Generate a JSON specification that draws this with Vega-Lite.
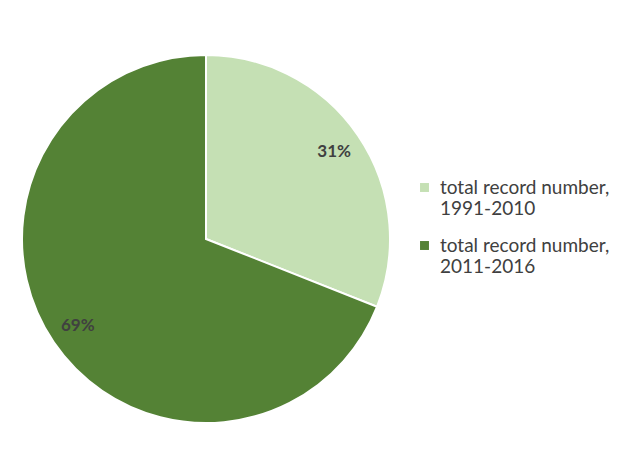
{
  "$schema": "https://vega.github.io/schema/vega-lite/v6.json",
  "autosize": "none",
  "width": 368,
  "height": 368,
  "padding": {"left": 22, "top": 55, "right": 238, "bottom": 48},
  "background": "white",
  "config": {"view": {"stroke": null}},
  "data": {
    "values": [
      {"period": "total record number,|1991-2010", "share": 0.31, "order": 1},
      {"period": "total record number,|2011-2016", "share": 0.69, "order": 2}
    ]
  },
  "encoding": {
    "theta": {"field": "share", "type": "quantitative", "stack": true},
    "order": {"field": "order", "type": "quantitative"},
    "color": {
      "field": "period",
      "type": "nominal",
      "scale": {"range": ["#C5E0B4", "#548235"]},
      "legend": {
        "title": null,
        "orient": "none",
        "legendX": 393,
        "legendY": 123,
        "symbolType": "square",
        "symbolSize": 80,
        "symbolStrokeWidth": 0,
        "labelFont": "Lato",
        "labelFontSize": 19,
        "labelColor": "#404040",
        "labelLimit": 300,
        "labelBaseline": "middle",
        "labelOffset": 6,
        "rowPadding": 17,
        "labelExpr": "split(datum.label, '|')"
      }
    }
  },
  "layer": [
    {"mark": {"type": "arc", "outerRadius": 184, "stroke": "white", "strokeWidth": 2}},
    {
      "mark": {"type": "text", "radius": 155, "font": "Lato", "fontSize": 17, "fontWeight": "bold"},
      "encoding": {"text": {"field": "share", "type": "quantitative", "format": ".0%"}, "color": {"value": "#404040"}}
    }
  ]
}
